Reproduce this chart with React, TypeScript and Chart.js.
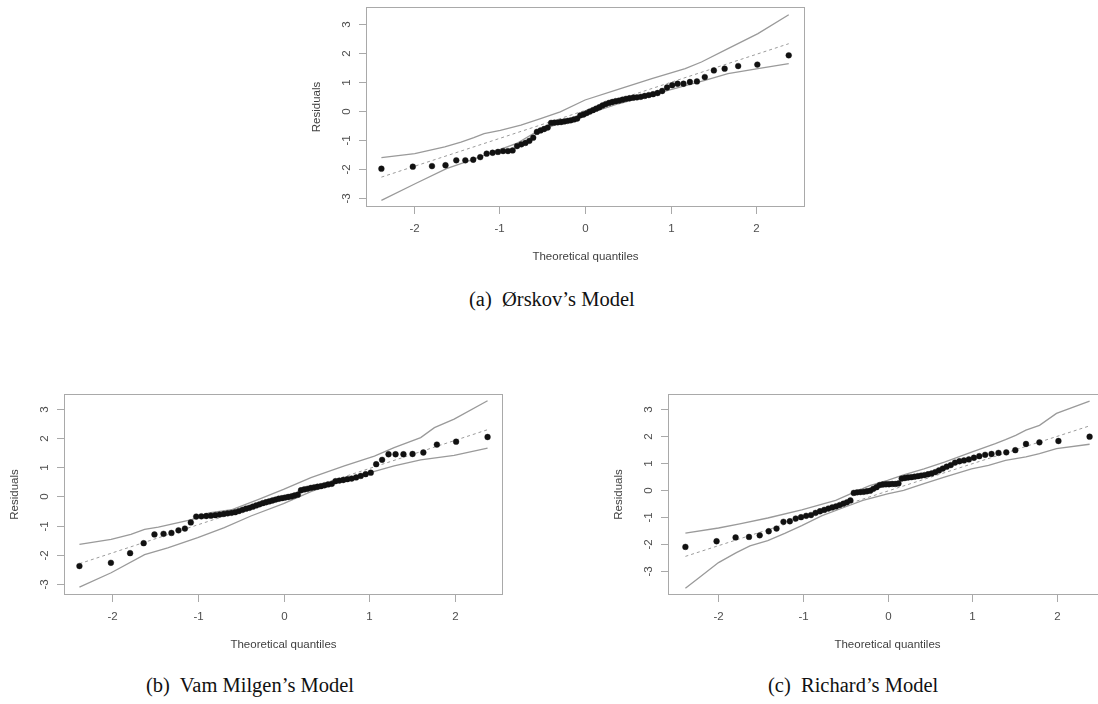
import React, { useEffect, useRef } from "react";
import { Chart, registerables } from "chart.js";

Chart.register(...registerables);

// Theoretical normal quantiles (shared x positions of the sorted residuals)
const quantiles = [
  -2.38, -2.013, -1.789, -1.631, -1.505, -1.399, -1.307, -1.225, -1.15, -1.081,
  -1.018, -0.958, -0.901, -0.847, -0.795, -0.745, -0.697, -0.651, -0.606, -0.563,
  -0.52, -0.478, -0.437, -0.397, -0.358, -0.319, -0.28, -0.242, -0.204, -0.167,
  -0.129, -0.092, -0.055, -0.018,
  0.018, 0.055, 0.092, 0.129, 0.167, 0.204, 0.242, 0.28, 0.319, 0.358,
  0.397, 0.437, 0.478, 0.52, 0.563, 0.606, 0.651, 0.697, 0.745, 0.795,
  0.847, 0.901, 0.958, 1.018, 1.081, 1.15, 1.225, 1.307, 1.399, 1.505,
  1.631, 1.789, 2.013, 2.38,
];

// (a) Ørskov's model
const residualsA = [
  -1.99, -1.92, -1.9, -1.87, -1.7, -1.7, -1.68, -1.59, -1.47, -1.44,
  -1.41, -1.38, -1.38, -1.36, -1.21, -1.15, -1.1, -1.03, -0.92, -0.72,
  -0.67, -0.62, -0.57, -0.41, -0.4, -0.39, -0.38, -0.36, -0.34, -0.32,
  -0.29, -0.26, -0.15, -0.12,
  -0.07, -0.02, 0.03, 0.08, 0.13, 0.19, 0.24, 0.28, 0.31, 0.34,
  0.36, 0.39, 0.42, 0.44, 0.46, 0.47, 0.49, 0.52, 0.55, 0.58,
  0.62, 0.69, 0.81, 0.89, 0.94, 0.94, 1.0, 1.02, 1.17, 1.4,
  1.46, 1.55, 1.6, 1.92,
];
const upperAX = [-2.38, -1.99, -1.64, -1.45, -1.3, -1.18, -0.99, -0.75, -0.52, -0.29, 0.0, 0.35, 0.78, 1.17, 1.36, 1.67, 2.02, 2.38];
const upperAY = [-1.61, -1.47, -1.24, -1.07, -0.92, -0.78, -0.67, -0.49, -0.26, -0.03, 0.38, 0.71, 1.12, 1.46, 1.69, 2.15, 2.67, 3.32];
const lowerAX = [-2.38, -1.98, -1.62, -1.34, -1.07, -0.8, -0.57, -0.3, 0.04, 0.39, 0.97, 1.4, 1.67, 2.02, 2.38];
const lowerAY = [-3.08, -2.5, -1.99, -1.7, -1.41, -1.12, -0.72, -0.43, -0.09, 0.25, 0.71, 1.06, 1.29, 1.46, 1.63];
const refAX = [-2.38, 2.38];
const refAY = [-2.28, 2.32];

// (b) Vam Milgen's model
const residualsB = [
  -2.38, -2.27, -1.94, -1.6, -1.3, -1.28, -1.25, -1.16, -1.1, -0.89,
  -0.69, -0.68, -0.67, -0.66, -0.64, -0.62, -0.6, -0.58, -0.56, -0.54,
  -0.5, -0.46, -0.42, -0.39, -0.35, -0.31, -0.27, -0.23, -0.2, -0.17,
  -0.14, -0.11, -0.08, -0.06,
  -0.04, -0.02, 0.0, 0.03, 0.06, 0.21, 0.24, 0.26, 0.29, 0.31,
  0.33, 0.35, 0.38, 0.41, 0.43, 0.52, 0.54, 0.56, 0.59, 0.61,
  0.65, 0.7, 0.76, 0.81, 1.1, 1.25, 1.44, 1.44, 1.44, 1.45,
  1.5, 1.77, 1.87, 2.03,
];
const upperBX = [-2.38, -2.01, -1.78, -1.62, -1.46, -1.07, -0.87, -0.6, -0.29, 0.0, 0.32, 0.71, 1.06, 1.29, 1.6, 1.76, 1.99, 2.38];
const upperBY = [-1.64, -1.47, -1.3, -1.13, -1.05, -0.79, -0.56, -0.45, -0.1, 0.24, 0.64, 1.04, 1.38, 1.67, 2.01, 2.35, 2.64, 3.27];
const lowerBX = [-2.38, -2.01, -1.62, -1.35, -1.0, -0.69, -0.38, 0.0, 0.32, 0.71, 1.02, 1.29, 1.6, 1.99, 2.38];
const lowerBY = [-3.1, -2.61, -1.99, -1.76, -1.41, -1.07, -0.67, -0.25, 0.16, 0.58, 0.82, 1.04, 1.25, 1.4, 1.65];
const refBX = [-2.38, 2.38];
const refBY = [-2.3, 2.28];

// (c) Richard's model
const residualsC = [
  -2.1, -1.89, -1.75, -1.73, -1.67, -1.52, -1.42, -1.17, -1.15, -1.05,
  -1.0, -0.95, -0.92, -0.84, -0.78, -0.73, -0.68, -0.64, -0.6, -0.55,
  -0.5, -0.45, -0.38, -0.1, -0.08, -0.07, -0.06, -0.04, -0.02, 0.05,
  0.11, 0.19, 0.21, 0.22,
  0.22, 0.23, 0.23, 0.25, 0.43, 0.45, 0.47, 0.48, 0.5, 0.52,
  0.54, 0.56, 0.59, 0.62, 0.67, 0.73, 0.8, 0.87, 0.93, 1.02,
  1.07, 1.1, 1.14, 1.2, 1.26, 1.31, 1.34, 1.38, 1.4, 1.48,
  1.71, 1.77, 1.82, 1.98,
];
const upperCX = [-2.38, -1.99, -1.74, -1.41, -1.01, -0.61, -0.41, -0.21, 0.0, 0.19, 0.43, 0.67, 0.99, 1.27, 1.39, 1.51, 1.63, 1.79, 1.99, 2.38];
const upperCY = [-1.59, -1.4, -1.25, -1.03, -0.73, -0.38, -0.1, 0.17, 0.36, 0.57, 0.79, 1.04, 1.41, 1.72, 1.87, 2.03, 2.22, 2.4, 2.84, 3.3];
const lowerCX = [-2.38, -2.22, -1.99, -1.78, -1.62, -1.41, -1.21, -1.01, -0.77, -0.53, -0.29, 0.0, 0.19, 0.43, 0.67, 0.99, 1.19, 1.39, 1.63, 1.79, 1.99, 2.38];
const lowerCY = [-3.63, -3.24, -2.68, -2.31, -2.06, -1.87, -1.6, -1.31, -0.94, -0.66, -0.38, -0.14, -0.01, 0.24, 0.48, 0.79, 0.92, 1.1, 1.23, 1.35, 1.54, 1.7];
const refCX = [-2.38, 2.38];
const refCY = [-2.45, 2.38];

const xTickValues = [-2, -1, 0, 1, 2];
const yTickValues = [-3, -2, -1, 0, 1, 2, 3];
const xTitle = "Theoretical quantiles";
const yTitle = "Residuals";

type Panel = {
  key: string;
  boxLeft: number;
  boxTop: number;
  boxWidth: number;
  boxHeight: number;
  xMin: number;
  xMax: number;
  yMin: number;
  yMax: number;
  residuals: number[];
  upperX: number[];
  upperY: number[];
  lowerX: number[];
  lowerY: number[];
  refX: number[];
  refY: number[];
};

const panels: Panel[] = [
  { key: "a", boxLeft: 366, boxTop: 7, boxWidth: 439, boxHeight: 200, xMin: -2.56, xMax: 2.57, yMin: -3.31, yMax: 3.586,
    residuals: residualsA, upperX: upperAX, upperY: upperAY, lowerX: lowerAX, lowerY: lowerAY, refX: refAX, refY: refAY },
  { key: "b", boxLeft: 64, boxTop: 394, boxWidth: 439, boxHeight: 201, xMin: -2.56, xMax: 2.56, yMin: -3.37, yMax: 3.5,
    residuals: residualsB, upperX: upperBX, upperY: upperBY, lowerX: lowerBX, lowerY: lowerBY, refX: refBX, refY: refBY },
  { key: "c", boxLeft: 668, boxTop: 394, boxWidth: 439, boxHeight: 201, xMin: -2.585, xMax: 2.585, yMin: -3.88, yMax: 3.56,
    residuals: residualsC, upperX: upperCX, upperY: upperCY, lowerX: lowerCX, lowerY: lowerCY, refX: refCX, refY: refCY },
];

const PAD_L = 62;
const PAD_T = 7;
const PAD_R = 20;
const PAD_B = 64;

const pairs = (xs: number[], ys: number[]) => xs.map((x, i) => ({ x, y: ys[i] }));

const framePlugin = {
  id: "rFrame",
  afterDraw(chart: any) {
    const { ctx, chartArea: a, scales } = chart;
    const xs = scales.x;
    const ys = scales.y;
    ctx.save();
    ctx.strokeStyle = "#a9a9a9";
    ctx.lineWidth = 1;
    ctx.strokeRect(a.left + 0.5, a.top + 0.5, a.right - a.left - 1, a.bottom - a.top - 1);
    ctx.font = '11.5px "Liberation Sans", Arial, sans-serif';
    ctx.fillStyle = "#4d4d4d";
    ctx.textAlign = "center";
    ctx.textBaseline = "middle";
    // x ticks
    xTickValues.forEach((v) => {
      const px = Math.round(xs.getPixelForValue(v)) + 0.5;
      ctx.beginPath();
      ctx.moveTo(px, a.bottom);
      ctx.lineTo(px, a.bottom + 7);
      ctx.stroke();
      ctx.fillText(String(v), px, a.bottom + 22);
    });
    // y ticks
    yTickValues.forEach((v) => {
      const py = Math.round(ys.getPixelForValue(v)) + 0.5;
      ctx.beginPath();
      ctx.moveTo(a.left, py);
      ctx.lineTo(a.left - 7, py);
      ctx.stroke();
      ctx.save();
      ctx.translate(a.left - 19, py);
      ctx.rotate(-Math.PI / 2);
      ctx.fillText(String(v), 0, 0);
      ctx.restore();
    });
    ctx.fillStyle = "#3f3f3f";
    ctx.fillText(xTitle, (a.left + a.right) / 2, a.bottom + 50);
    ctx.save();
    ctx.translate(a.left - 49, (a.top + a.bottom) / 2);
    ctx.rotate(-Math.PI / 2);
    ctx.fillText(yTitle, 0, 0);
    ctx.restore();
    ctx.restore();
  },
};

function QQPanel({ p }: { p: Panel }) {
  const ref = useRef<HTMLCanvasElement | null>(null);
  useEffect(() => {
    if (!ref.current) return;
    const chart = new Chart(ref.current, {
      type: "scatter",
      data: {
        datasets: [
          {
            data: pairs(quantiles, p.residuals),
            pointRadius: 2.9,
            pointBackgroundColor: "#111111",
            pointBorderColor: "#111111",
            pointBorderWidth: 0.4,
            showLine: false,
          },
          {
            data: pairs(p.refX, p.refY),
            showLine: true,
            borderColor: "#9b9b9b",
            borderWidth: 1,
            borderDash: [3, 3],
            pointRadius: 0,
          },
          {
            data: pairs(p.upperX, p.upperY),
            showLine: true,
            borderColor: "#9a9a9a",
            borderWidth: 1.3,
            pointRadius: 0,
          },
          {
            data: pairs(p.lowerX, p.lowerY),
            showLine: true,
            borderColor: "#9a9a9a",
            borderWidth: 1.3,
            pointRadius: 0,
          },
        ],
      } as any,
      options: {
        responsive: false,
        animation: false,
        devicePixelRatio: 1,
        events: [],
        layout: { padding: { left: PAD_L, top: PAD_T, right: PAD_R, bottom: PAD_B } },
        plugins: { legend: { display: false }, tooltip: { enabled: false }, title: { display: false } },
        scales: {
          x: { type: "linear", min: p.xMin, max: p.xMax, display: false },
          y: { type: "linear", min: p.yMin, max: p.yMax, display: false },
        },
      } as any,
      plugins: [framePlugin],
    });
    return () => chart.destroy();
  }, [p]);
  const w = PAD_L + p.boxWidth + PAD_R;
  const h = PAD_T + p.boxHeight + PAD_B;
  return (
    <canvas
      ref={ref}
      width={w}
      height={h}
      style={{ position: "absolute", left: p.boxLeft - PAD_L, top: p.boxTop - PAD_T, width: w, height: h }}
    />
  );
}

const captionStyle: React.CSSProperties = {
  position: "absolute",
  fontFamily: '"Liberation Serif", "Times New Roman", serif',
  fontSize: "20.5px",
  lineHeight: "24px",
  whiteSpace: "pre",
  color: "#111",
};

export default function App() {
  return (
    <div style={{ position: "absolute", left: 0, top: 0, width: 1098, height: 704, overflow: "hidden", background: "#fff" }}>
      {panels.map((p) => (
        <QQPanel key={p.key} p={p} />
      ))}
      <div style={{ ...captionStyle, left: 469, top: 287 }}>{"(a)  Ørskov\u2019s Model"}</div>
      <div style={{ ...captionStyle, left: 146, top: 673 }}>{"(b)  Vam Milgen\u2019s Model"}</div>
      <div style={{ ...captionStyle, left: 768, top: 673 }}>{"(c)  Richard\u2019s Model"}</div>
    </div>
  );
}
